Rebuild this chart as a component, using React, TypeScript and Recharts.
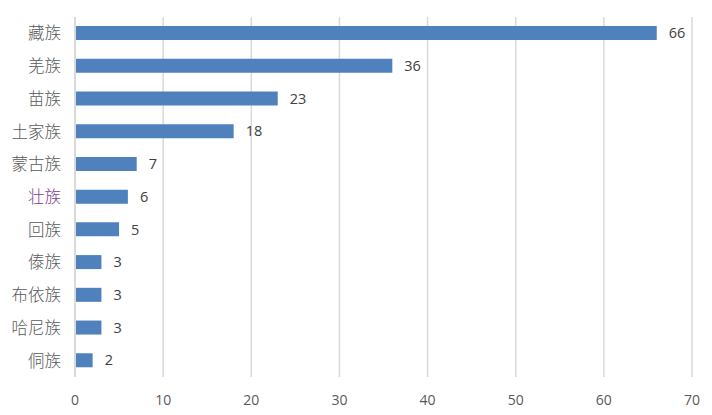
import React from "react";
import { BarChart, Bar, XAxis, YAxis, CartesianGrid, LabelList } from "recharts";

const categories = ["藏族", "羌族", "苗族", "土家族", "蒙古族", "壮族", "回族", "傣族", "布依族", "哈尼族", "侗族"];
const counts = [66, 36, 23, 18, 7, 6, 5, 3, 3, 3, 2];
const xTicks = [0, 10, 20, 30, 40, 50, 60, 70];

const data = categories.map((name, i) => ({ name, value: counts[i] }));

const CatTick = (props: any) => {
  const { x, y, payload } = props;
  const color = payload.value === "壮族" ? "#7E3C93" : "#595959";
  return (
    <text x={x} y={y} dy={6} textAnchor="end" fill={color} fontSize={16.5}
      fontFamily="'Noto Sans CJK SC', sans-serif" fontWeight={300}>
      {payload.value}
    </text>
  );
};

export default function App() {
  return (
    <div style={{ position: "absolute", left: 0, top: 0, width: 712, height: 415, background: "#fff" }}>
      <BarChart
        width={712}
        height={415}
        data={data}
        layout="vertical"
        margin={{ top: 17, right: 20, bottom: 7, left: 8 }}
        barCategoryGap={9}
      >
        <CartesianGrid horizontal={false} stroke="#d9d9d9" strokeWidth={1.5} />
        <XAxis
          type="number"
          domain={[0, 70]}
          ticks={xTicks}
          axisLine={false}
          tickLine={false}
          height={31}
          tick={{ fill: "#595959", fontSize: 14, fontFamily: "'Open Sans', 'Liberation Sans', sans-serif" }}
          tickMargin={12}
        />
        <YAxis
          type="category"
          dataKey="name"
          width={67}
          axisLine={{ stroke: "#d9d9d9", strokeWidth: 2 }}
          tickLine={false}
          tick={<CatTick />}
          tickMargin={8}
          interval={0}
        />
        <Bar dataKey="value" fill="#4F81BD" barSize={14} isAnimationActive={false}>
          <LabelList
            dataKey="value"
            position="right"
            offset={12}
            fill="#404040"
            fontSize={14.5}
            fontFamily="'Open Sans', 'Liberation Sans', sans-serif"
          />
        </Bar>
      </BarChart>
    </div>
  );
}
